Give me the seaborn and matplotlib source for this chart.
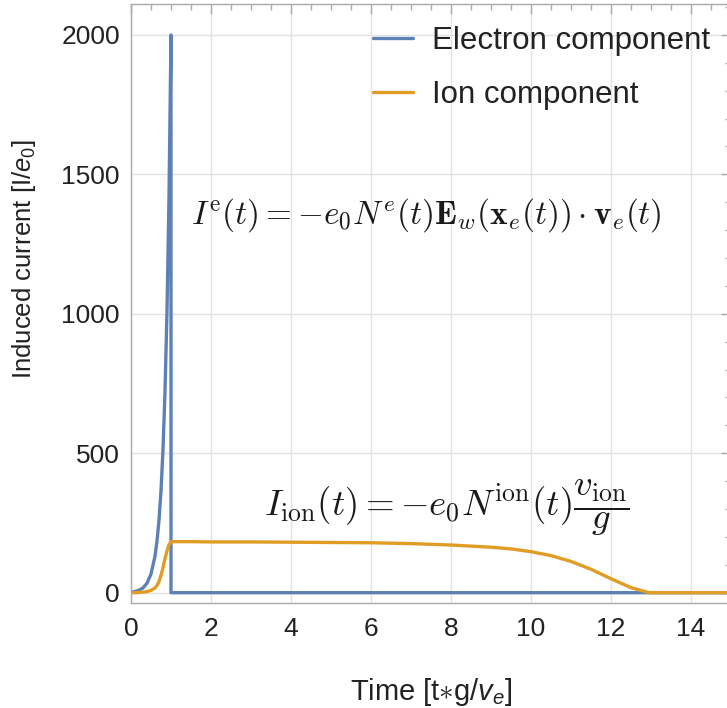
import matplotlib
matplotlib.use("Agg")
import matplotlib.pyplot as plt
from matplotlib.ticker import MultipleLocator
import numpy as np
import pandas as pd
import seaborn as sns

# Time axis samples (units of g/v_e) and induced current values [I/e0]
t_rise = [0.0, 0.1, 0.2, 0.3, 0.4, 0.5, 0.6, 0.65, 0.7, 0.75, 0.8, 0.85, 0.9, 0.95, 1.0]
electron_rise = [2, 4, 9, 17, 34, 67, 131, 185, 260, 365, 514, 720, 1010, 1420, 2000]
t_electron_tail = [1.0, 15.0]
electron_tail = [0, 0]

ion_rise = [0, 0, 1, 2, 4, 8, 17, 26, 40, 62, 90, 122, 150, 172, 183]
t_ion_tail = [1.5, 2, 3, 4, 5, 6, 7, 8, 9, 9.5, 10, 10.5, 11, 11.5, 12, 12.5, 12.95, 15]
ion_tail = [183, 182, 182, 181, 180, 179, 176, 171, 163, 157, 147, 133, 112, 84, 50, 18, 0, 0]

series_names = ["Electron component", "Ion component"]
x_ticks = [0, 2, 4, 6, 8, 10, 12, 14]
y_ticks = [0, 500, 1000, 1500, 2000]

df = pd.concat([
    pd.DataFrame({"t": t_rise + t_electron_tail,
                  "I": electron_rise + electron_tail,
                  "component": series_names[0]}),
    pd.DataFrame({"t": t_rise + t_ion_tail,
                  "I": ion_rise + ion_tail,
                  "component": series_names[1]}),
], ignore_index=True)

sns.set_theme(style="white")
plt.rcParams["font.family"] = ["Liberation Sans", "DejaVu Sans"]
plt.rcParams["mathtext.fontset"] = "custom"
plt.rcParams["mathtext.rm"] = "Liberation Sans"
plt.rcParams["mathtext.it"] = "Liberation Sans:italic"
plt.rcParams["mathtext.bf"] = "Liberation Sans:bold"

palette = {series_names[0]: "#5E81B5", series_names[1]: "#E19C24"}

fig = plt.figure(figsize=(7.27, 7.08), dpi=100)
ax = fig.add_axes([131 / 727, 105 / 708, 600 / 727, 599 / 708])

sns.lineplot(data=df, x="t", y="I", hue="component", palette=palette,
             estimator=None, sort=False, linewidth=2.4, ax=ax)

ax.set_xlim(0, 15)
ax.set_ylim(-37, 2111)
ax.set_xticks(x_ticks)
ax.set_yticks(y_ticks)
ax.xaxis.set_minor_locator(MultipleLocator(0.5))
ax.yaxis.set_minor_locator(MultipleLocator(100))

ax.set_axisbelow(True)
ax.grid(True, which="major", color="#e2e2e2", linewidth=1.0)
for s in ax.spines.values():
    s.set_color("#a9a9a9")
    s.set_linewidth(1.0)

ax.tick_params(which="both", direction="in", top=True, right=True,
               color="#a9a9a9", width=1.0)
ax.tick_params(which="major", length=7, labelsize=19, labelcolor="#222222")
ax.tick_params(axis="x", which="major", pad=10)
ax.tick_params(axis="y", which="major", pad=8)
ax.tick_params(which="minor", length=4)

ax.set_xlabel(r"Time [t$\ast$g/$v_e$]", fontsize=21, color="#222222")
ax.xaxis.set_label_coords(0.5, -0.122)
ax.set_ylabel(r"Induced current [I/$e_0$]", fontsize=18.5, color="#222222")
ax.yaxis.set_label_coords(-0.155, 0.575)

ax.text(0.1, 0.648,
        r"$I^{\mathrm{e}}(t)=-e_0N^{e}(t)\mathbf{E}_w(\mathbf{x}_e(t))\cdot\mathbf{v}_e(t)$",
        transform=ax.transAxes, fontsize=24, color="#1a1a1a", va="center", ha="left",
        math_fontfamily="cm")
ax.text(0.222, 0.160,
        r"$I_{\mathrm{ion}}(t)=-e_0N^{\mathrm{ion}}(t)\dfrac{v_{\mathrm{ion}}}{g}$",
        transform=ax.transAxes, fontsize=26.5, color="#1a1a1a", va="center", ha="left",
        math_fontfamily="cm")

leg = ax.legend(loc="upper left", bbox_to_anchor=(0.403, 0.963), frameon=False,
                fontsize=22.5, handlelength=1.28, handletextpad=0.6, labelspacing=0.75,
                borderpad=0, borderaxespad=0)
for txt in leg.get_texts():
    txt.set_color("#222222")

fig.savefig("out.png", dpi=100)
